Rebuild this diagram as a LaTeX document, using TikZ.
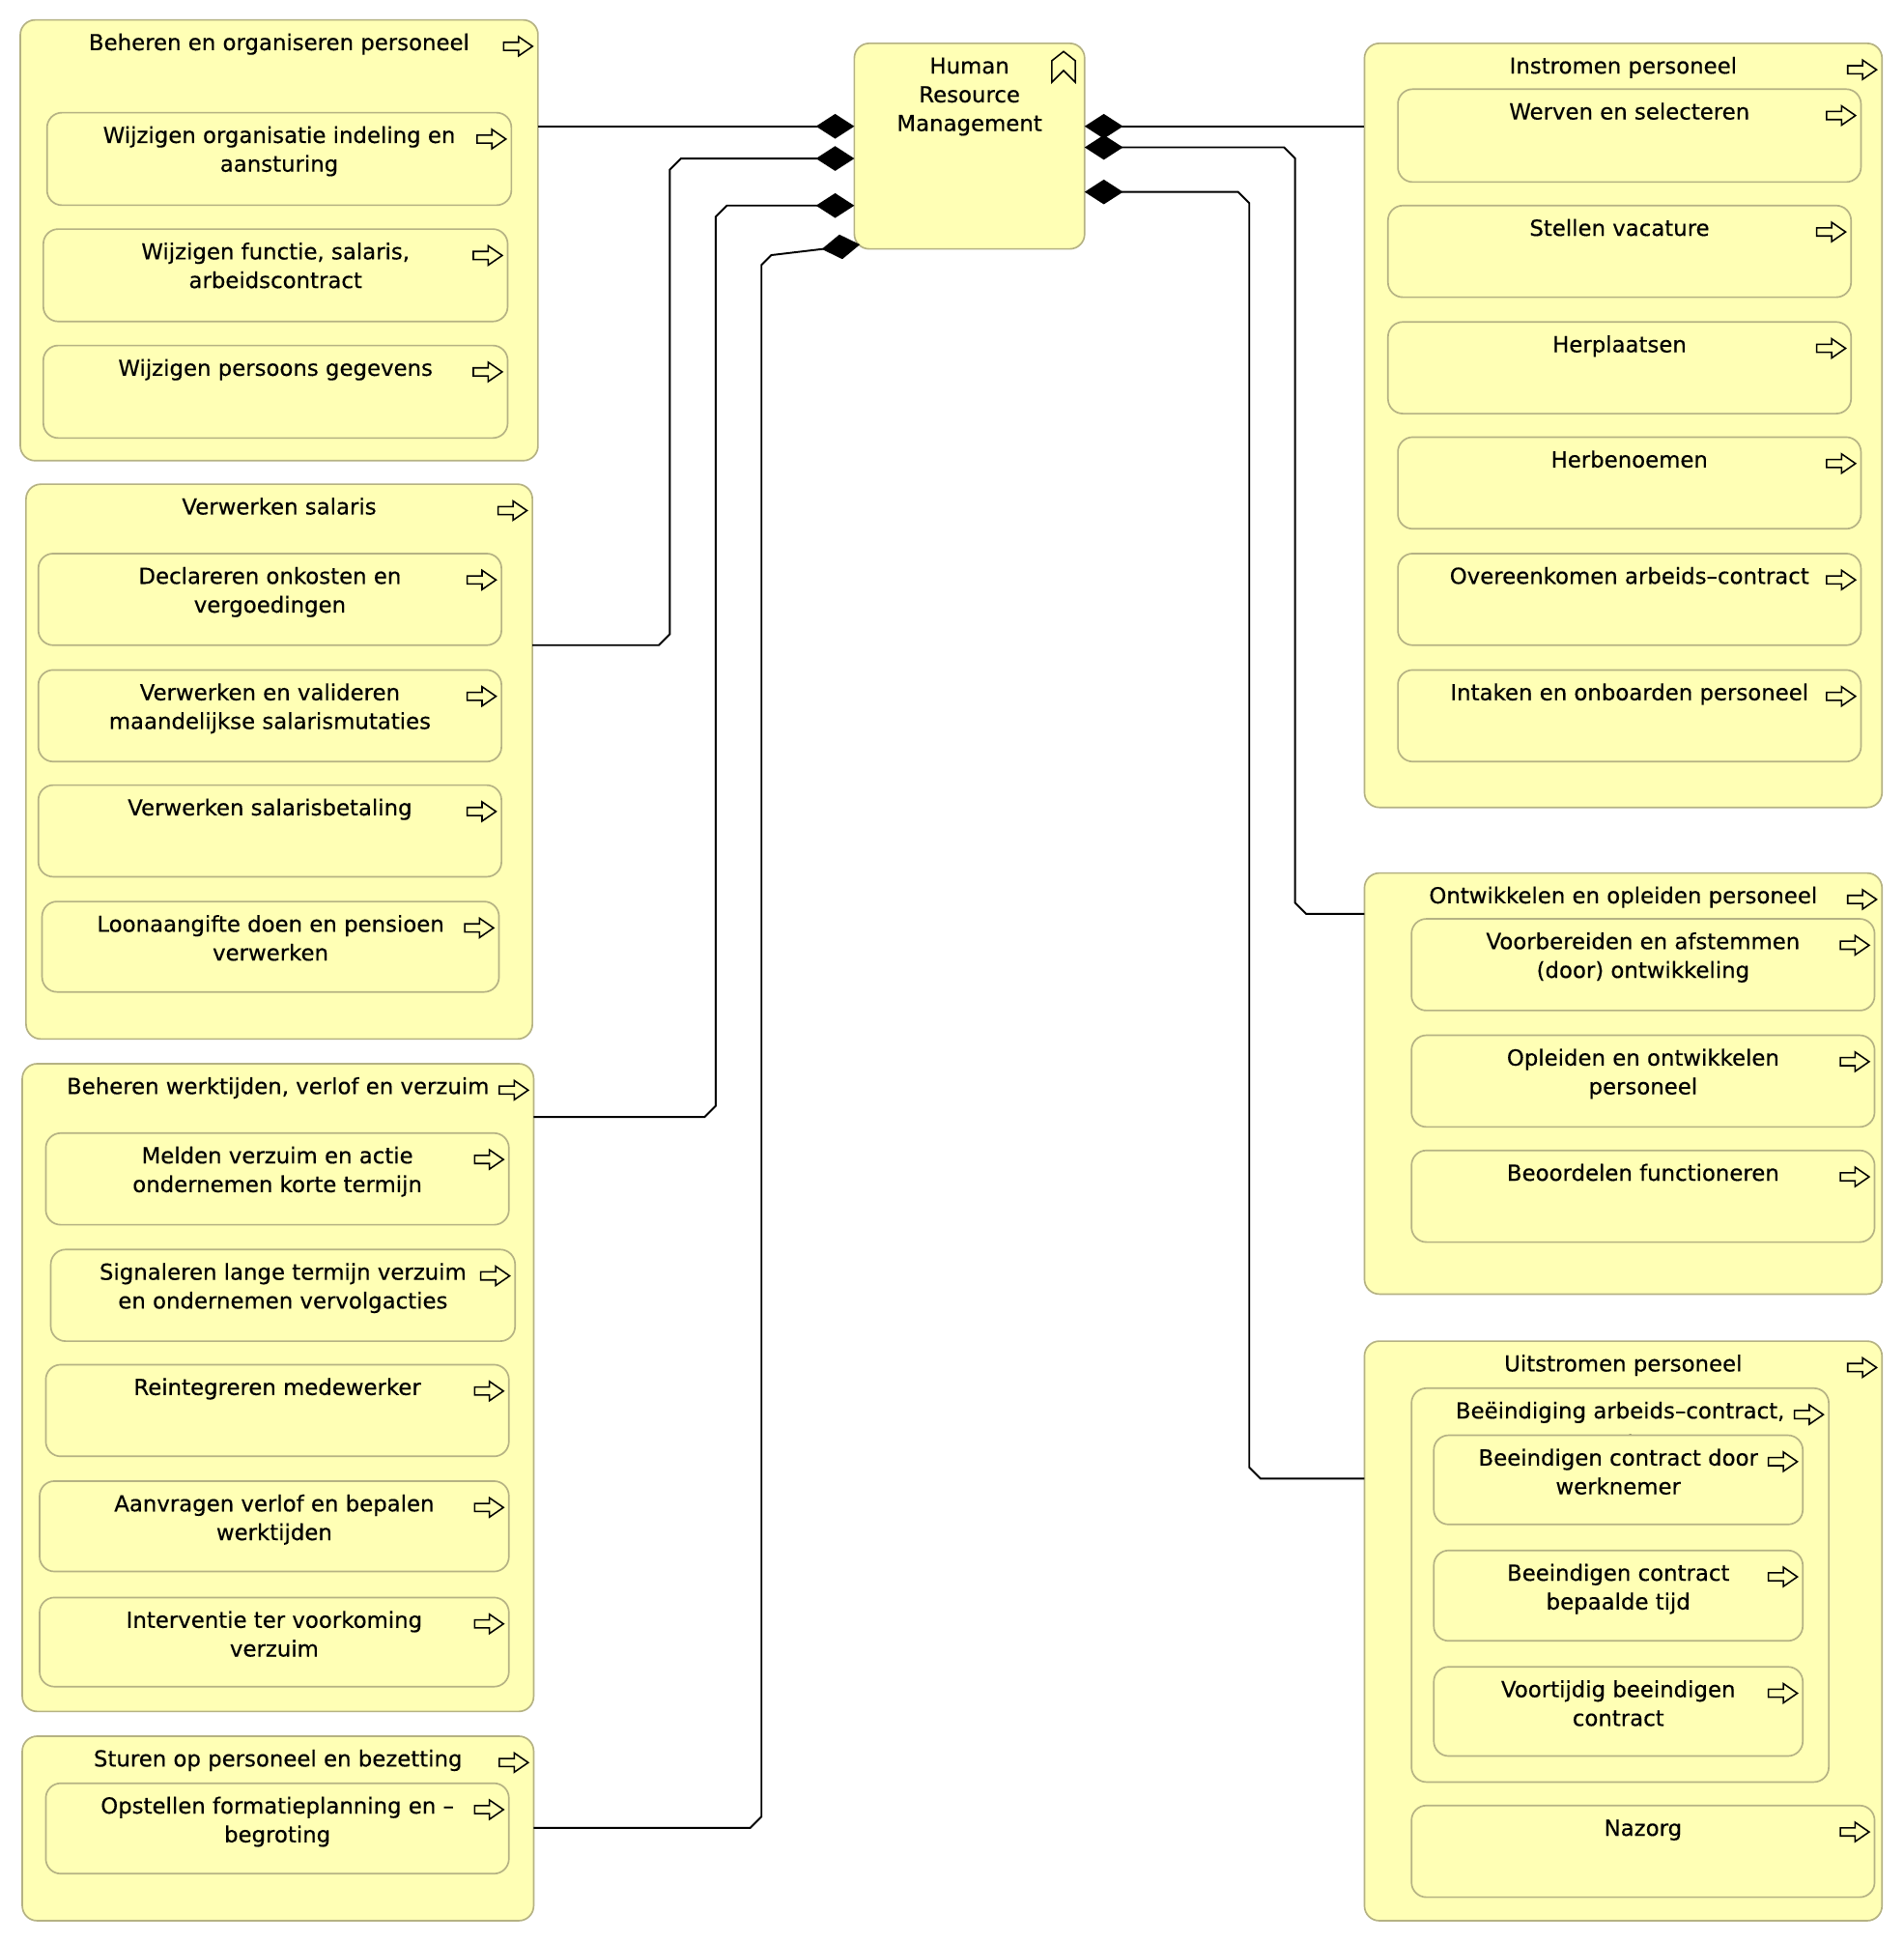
\documentclass[tikz,border=0pt]{standalone}
\usepackage{fontspec}
\setmainfont{DejaVu Sans}[FakeBold=0.35]
\usetikzlibrary{arrows.meta,calc}

\definecolor{bizfill}{HTML}{FFFFB5}
\definecolor{bizline}{HTML}{B5B283}
\newcommand\lblfont{\fontsize{8.9pt}{11.6pt}\selectfont}

\tikzset{
  elem/.style={draw=bizline, fill=bizfill, line width=0.65pt, rounded corners=6pt,
               inner sep=0pt, outer sep=0pt},
  lbl/.style={anchor=north, inner sep=0pt, align=center, font=\lblfont},
  icon/.style={draw=black, line width=0.6pt, line join=miter},
  conn/.style={draw=black, line width=0.75pt,
               -{Turned Square[length=15.5pt,width=10pt]}},
  procicon/.pic={
    \draw[icon] (0,0) -- (-11.3,-7.8) -- (-11.3,-3.25) -- (-23.3,-3.25)
      -- (-23.3,3.25) -- (-11.3,3.25) -- (-11.3,7.8) -- cycle;
  },
  funcicon/.pic={
    \draw[icon] (0,-12.4) -- (9.4,-5) -- (9.4,12.4) -- (0,3)
      -- (-9.4,12.4) -- (-9.4,-5) -- cycle;
  }
}

% process box: name, left, top, right, bottom, label
\newcommand\pbox[6]{%
  \pgfmathsetmacro\bw{(#4-#2)*0.5}%
  \pgfmathsetmacro\bh{(#5-#3)*0.5}%
  \node[elem, minimum width=\bw pt, minimum height=\bh pt] (#1)
    at ({(#2+#4)/2},{(#3+#5)/2}) {};
  \node[lbl] (#1-t) at ($(#1.north)+(0,7.8)$) {\strut #6};
  \pic at ($(#1.north east)+(-4.4,21.3)$) {procicon};
}

\begin{document}
\begin{tikzpicture}[x=0.5pt,y=-0.5pt]
  \fill[white] (0,0) rectangle (1537,1568.2);
  \useasboundingbox (0,0) rectangle (1537,1568.2);

  % left column
  \pbox{A}{16.4}{16.1}{434.5}{372}{Beheren en organiseren personeel}
  \pbox{A1}{38}{91}{413}{165.7}{Wijzigen organisatie indeling en\\aansturing}
  \pbox{A2}{35}{185}{410}{259.6}{Wijzigen functie, salaris,\\arbeidscontract}
  \pbox{A3}{35}{279}{410}{353.7}{Wijzigen persoons gegevens}

  \pbox{B}{21}{391}{430}{839}{Verwerken salaris}
  \pbox{B1}{31}{447}{405}{521}{Declareren onkosten en\\vergoedingen}
  \pbox{B2}{31}{541}{405}{615}{Verwerken en valideren\\maandelijkse salarismutaties}
  \pbox{B3}{31}{634}{405}{708}{Verwerken salarisbetaling}
  \pbox{B4}{34}{728}{403}{801}{Loonaangifte doen en pensioen\\verwerken}

  \pbox{C}{18}{859}{431}{1382}{Beheren werktijden, verlof en verzuim}
  \pbox{C1}{37}{915}{411}{989}{Melden verzuim en actie\\ondernemen korte termijn}
  \pbox{C2}{41}{1009}{416}{1083}{Signaleren lange termijn verzuim\\en ondernemen vervolgacties}
  \pbox{C3}{37}{1102}{411}{1176}{Reintegreren medewerker}
  \pbox{C4}{32}{1196}{411}{1269}{Aanvragen verlof en bepalen\\werktijden}
  \pbox{C5}{32}{1290}{411}{1362}{Interventie ter voorkoming\\verzuim}

  \pbox{D}{18}{1402}{431}{1551}{Sturen op personeel en bezetting}
  \pbox{D1}{37}{1440}{411}{1513}{Opstellen formatieplanning en –\\begroting}

  % central function
  \node[elem, minimum width=93pt, minimum height=83pt] (hrm) at (783,118) {};
  \node[lbl] (hrm-t) at ($(hrm.north)+(0,7.8)$) {\strut Human\\Resource\\Management};
  \pic at ($(hrm.north east)+(-17,19)$) {funcicon};

  % right column
  \pbox{E}{1102}{35}{1520}{652}{Instromen personeel}
  \pbox{E1}{1129}{72}{1503}{147}{Werven en selecteren}
  \pbox{E2}{1121}{166}{1495}{240}{Stellen vacature}
  \pbox{E3}{1121}{260}{1495}{334}{Herplaatsen}
  \pbox{E4}{1129}{353}{1503}{427}{Herbenoemen}
  \pbox{E5}{1129}{447}{1503}{521}{Overeenkomen arbeids–contract}
  \pbox{E6}{1129}{541}{1503}{615}{Intaken en onboarden personeel}

  \pbox{F}{1102}{705}{1520}{1045}{Ontwikkelen en opleiden personeel}
  \pbox{F1}{1140}{742}{1514}{816}{Voorbereiden en afstemmen\\(door) ontwikkeling}
  \pbox{F2}{1140}{836}{1514}{910}{Opleiden en ontwikkelen\\personeel}
  \pbox{F3}{1140}{929}{1514}{1003}{Beoordelen functioneren}

  \pbox{G}{1102}{1083}{1520}{1551}{Uitstromen personeel}
  \pbox{G1}{1140}{1121}{1477}{1439}{Beëindiging arbeids–contract,\\[1.6pt]ontslag}
  \pbox{G1a}{1158}{1159}{1456}{1231}{Beeindigen contract door\\werknemer}
  \pbox{G1b}{1158}{1252}{1456}{1325}{Beeindigen contract\\bepaalde tijd}
  \pbox{G1c}{1158}{1346}{1456}{1418}{Voortijdig beeindigen\\contract}
  \pbox{G2}{1140}{1458}{1514}{1532}{Nazorg}

  % attachment points on the function box
  \coordinate (hl1) at (hrm.west |- 0,102);
  \coordinate (hl2) at (hrm.west |- 0,128);
  \coordinate (hl3) at (hrm.west |- 0,166);
  \coordinate (hl4) at ($(hrm.south west)+(4.5,-3.5)$);
  \coordinate (hr1) at (hrm.east |- 0,102);
  \coordinate (hr2) at (hrm.east |- 0,119);
  \coordinate (hr3) at (hrm.east |- 0,155);

  % composition relations
  \draw[conn] (A.east |- 0,102) -- (hl1);
  \draw[conn] (B.east |- 0,521) -- (532,521) -- (541,512) -- (541,137) -- (550,128) -- (hl2);
  \draw[conn] (C.east |- 0,902) -- (569,902) -- (578,893) -- (578,175) -- (587,166) -- (hl3);
  \draw[conn] (D.east |- 0,1476) -- (606,1476) -- (615,1467) -- (615,214) -- (623,206) -- (hl4);
  \draw[conn] (E.west |- 0,102) -- (hr1);
  \draw[conn] (F.west |- 0,738) -- (1055,738) -- (1046,729) -- (1046,128) -- (1037,119) -- (hr2);
  \draw[conn] (G.west |- 0,1194) -- (1018,1194) -- (1009,1185) -- (1009,164) -- (1000,155) -- (hr3);
\end{tikzpicture}
\end{document}
